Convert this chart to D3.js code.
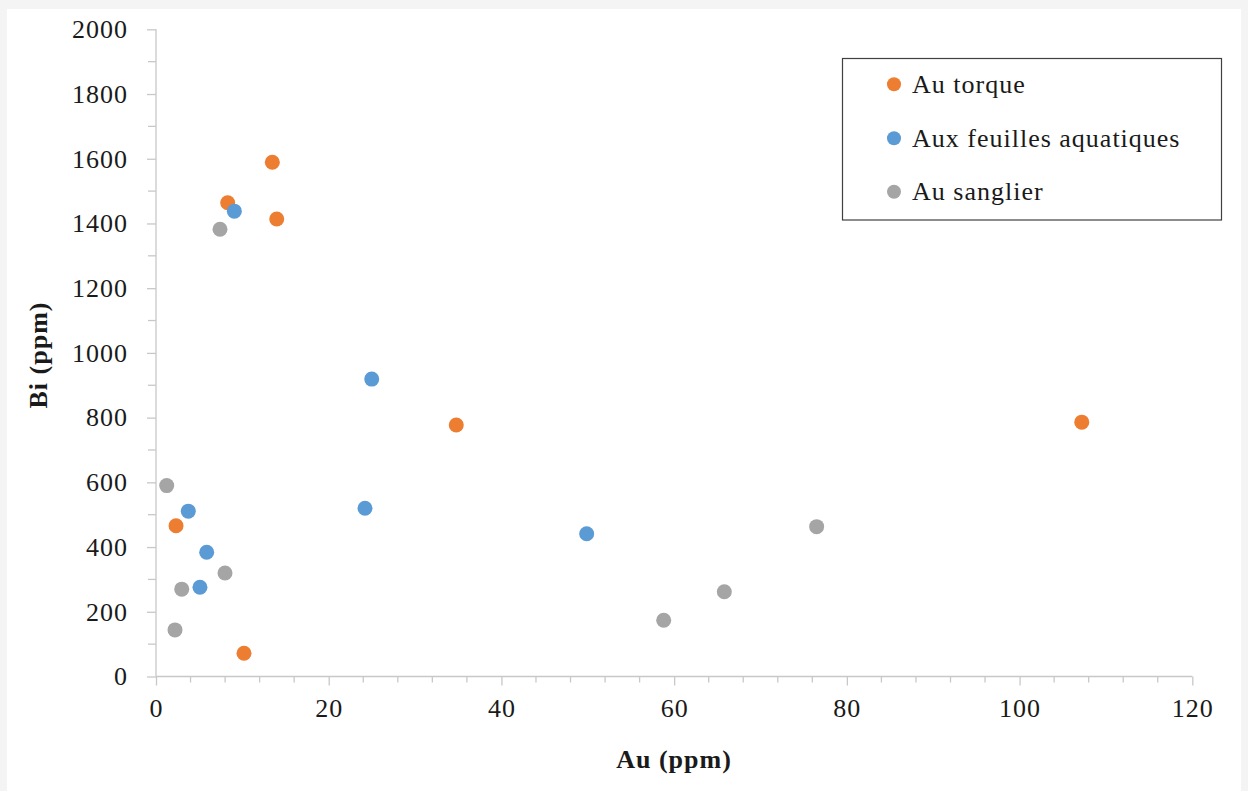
<!DOCTYPE html>
<html>
<head>
<meta charset="utf-8">
<script src="https://cdn.jsdelivr.net/npm/d3@7"></script>
<style>
  html, body { margin: 0; padding: 0; background: #f4f4f4; }
  svg { display: block; }
  text { font-family: "Liberation Serif", "DejaVu Serif", serif; fill: #1a1a1a; letter-spacing: 1px; }
</style>
</head>
<body>
<svg id="chart" width="1248" height="791"></svg>
<script>
// ---- Data ----
const seriesNames = ["Au torque", "Aux feuilles aquatiques", "Au sanglier"];
const seriesColors = ["#ED7D31", "#5B9BD5", "#A5A5A5"];

const torqueAu = [13.47, 8.30, 13.98, 34.77, 107.2, 2.32, 10.19];
const torqueBi = [1589, 1464, 1414, 777, 786, 466, 72];

const feuillesAu = [9.07, 24.98, 3.74, 24.20, 49.87, 5.87, 5.09];
const feuillesBi = [1438, 919, 511, 520, 441, 384, 276];

const sanglierAu = [7.41, 1.24, 7.99, 2.98, 2.20, 58.79, 65.81, 76.50];
const sanglierBi = [1382, 590, 320, 270, 144, 174, 262, 463];

const xTicks = [0, 20, 40, 60, 80, 100, 120];
const yTicks = [0, 200, 400, 600, 800, 1000, 1200, 1400, 1600, 1800, 2000];
const xTitle = "Au (ppm)";
const yTitle = "Bi (ppm)";

// ---- Layout ----
const svg = d3.select("#chart");
svg.append("rect").attr("x", 7).attr("y", 9).attr("width", 1234).attr("height", 790).attr("fill", "#ffffff");

const x = d3.scaleLinear().domain([0, 120]).range([156, 1192.3]);
const y = d3.scaleLinear().domain([0, 2000]).range([676.5, 29.3]);
const axisColor = "#c8c8c8";
const fontSize = 26;

// minor ticks
const xMinor = d3.range(0, 121, 4).filter(v => v % 20 !== 0);
const yMinor = d3.range(100, 2000, 200);

const gx = svg.append("g");
gx.selectAll("line.minor").data(xMinor).join("line")
  .attr("x1", d => x(d)).attr("x2", d => x(d))
  .attr("y1", y(0)).attr("y2", y(0) + 6)
  .attr("stroke", axisColor).attr("stroke-width", 1.3);
const xAxis = d3.axisBottom(x).tickValues(xTicks).tickSize(9).tickPadding(13).tickFormat(d3.format("d"));
gx.append("g").attr("transform", `translate(0,${y(0)})`).call(xAxis)
  .call(g => g.select(".domain").attr("stroke", axisColor).attr("stroke-width", 1.3).attr("d", `M${x(0)},0H${x(120)}`))
  .call(g => g.selectAll(".tick line").attr("stroke", axisColor).attr("stroke-width", 1.3))
  .call(g => g.selectAll(".tick text").attr("font-family", '"Liberation Serif", serif').attr("font-size", fontSize).attr("fill", "#1a1a1a"));

const gy = svg.append("g");
gy.selectAll("line.minor").data(yMinor).join("line")
  .attr("x1", x(0) - 8).attr("x2", x(0))
  .attr("y1", d => y(d)).attr("y2", d => y(d))
  .attr("stroke", axisColor).attr("stroke-width", 1.3);
const yAxis = d3.axisLeft(y).tickValues(yTicks).tickSize(9).tickPadding(19).tickFormat(d3.format("d"));
gy.append("g").attr("transform", `translate(${x(0)},0)`).call(yAxis)
  .call(g => g.select(".domain").attr("stroke", axisColor).attr("stroke-width", 1.3).attr("d", `M0,${y(0)}V${y(2000)}`))
  .call(g => g.selectAll(".tick line").attr("stroke", axisColor).attr("stroke-width", 1.3))
  .call(g => g.selectAll(".tick text").attr("font-family", '"Liberation Serif", serif').attr("font-size", fontSize).attr("fill", "#1a1a1a"));

// axis titles
svg.append("text").attr("x", 674).attr("y", 768).attr("text-anchor", "middle")
  .attr("font-size", 26).attr("font-weight", "bold").text(xTitle);
svg.append("text").attr("transform", "translate(47,355) rotate(-90)").attr("text-anchor", "middle")
  .attr("font-size", 26).attr("font-weight", "bold").text(yTitle);

// points
const series = [
  { name: seriesNames[0], color: seriesColors[0], xs: torqueAu, ys: torqueBi },
  { name: seriesNames[1], color: seriesColors[1], xs: feuillesAu, ys: feuillesBi },
  { name: seriesNames[2], color: seriesColors[2], xs: sanglierAu, ys: sanglierBi }
];
const gp = svg.append("g");
series.forEach(s => {
  gp.append("g").selectAll("circle").data(s.xs.map((v, i) => [v, s.ys[i]])).join("circle")
    .attr("cx", d => x(d[0])).attr("cy", d => y(d[1])).attr("r", 7.5).attr("fill", s.color);
});

// legend
const lg = svg.append("g");
lg.append("rect").attr("x", 842.5).attr("y", 58.5).attr("width", 379).attr("height", 161.5)
  .attr("fill", "#ffffff").attr("stroke", "#404040").attr("stroke-width", 1.2);
const legY = [84.3, 138.3, 191.7];
lg.selectAll("circle").data(series).join("circle")
  .attr("cx", 894).attr("cy", (d, i) => legY[i]).attr("r", 7).attr("fill", d => d.color);
lg.selectAll("text").data(series).join("text")
  .attr("x", 912).attr("y", (d, i) => legY[i]).attr("dy", "0.33em")
  .attr("font-size", fontSize).text(d => d.name);
</script>
</body>
</html>
